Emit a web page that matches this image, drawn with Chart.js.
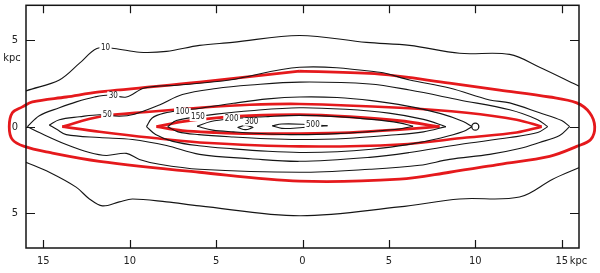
<!DOCTYPE html>
<html>
<head>
<meta charset="utf-8">
<script src="https://cdn.jsdelivr.net/npm/chart.js@4.4.0/dist/chart.umd.min.js"></script>
<style>
  html, body { margin: 0; padding: 0; background: #fff; }
  #galaxyChart { display: block; }
</style>
</head>
<body>
<canvas id="galaxyChart" width="600" height="273"></canvas>
<script>
// axis ticks (kpc)
const xTicks = [-15, -10, -5, 0, 5, 10, 15];
const yTicks = [-5, 0, 5];

// black isophotes, [x kpc, z kpc], top and bottom branches
const c10Top = [[-16.5,1.8],[-16,2.06],[-14.07,2.69],[-12.9,3.66],[-11.9,4.51],[-10.9,4.51],[-9.44,4.29],[-7.87,4.34],[-5.96,4.69],[-4.05,4.86],[-0.17,5.26],[3.7,4.86],[6.2,4.69],[9.09,4.23],[11.99,4.17],[13.72,3.43],[15.87,2.4],[16.5,2.1]];
const c10Bot = [[-16.5,-1.85],[-16,-2.06],[-14.65,-2.63],[-13.1,-3.49],[-12.33,-4.17],[-11.58,-4.57],[-10.6,-4.34],[-9.84,-4.17],[-7.87,-4.34],[-5.96,-4.57],[-0.17,-5.14],[5.6,-4.63],[9.09,-4.17],[12.56,-4.06],[14.48,-3.03],[15.92,-2.4],[16.5,-2.15]];
const c30Top = [[-15.92,0],[-15.23,0.63],[-14.07,1.09],[-13.09,1.43],[-12.04,1.71],[-11.18,1.83],[-10.19,1.71],[-9.15,2.23],[-7.12,2.4],[-4.23,2.69],[-0.17,3.43],[4.46,3.14],[6.2,2.69],[8.51,2.23],[10.83,1.54],[11.99,1.37],[13.72,0.8],[15.0,0.35],[15.46,0]];
const c30Bot = [[-15.92,0],[-15.23,-0.34],[-13.67,-1.03],[-12.33,-1.49],[-11.35,-1.66],[-10.19,-1.54],[-9.44,-1.89],[-8.28,-2.17],[-5.96,-2.46],[-0.17,-2.63],[3.88,-2.46],[6.77,-2.23],[8.51,-1.89],[10.83,-1.6],[12.56,-1.26],[13.72,-0.91],[14.88,-0.51],[15.46,0]];
const c50Top = [[-14.65,0.1],[-14.07,0.4],[-12.91,0.57],[-11.75,0.69],[-10.6,0.6],[-9.73,0.72],[-8.28,1.25],[-6.95,1.85],[-5,2.2],[-3,2.4],[-0.17,2.57],[3.88,2.46],[6.2,2.11],[9.09,1.54],[11.99,0.97],[13.61,0.4],[14.19,0]];
const c50Bot = [[-14.65,0.1],[-14.2,-0.17],[-13.67,-0.46],[-11.75,-0.63],[-9.84,-0.74],[-7.87,-1.09],[-5.96,-1.6],[-3,-1.85],[-0.17,-2.0],[3.88,-1.77],[6.2,-1.49],[9.09,-1.03],[11.99,-0.63],[13.61,-0.34],[14.19,0]];
const c100Top = [[-9.03,0],[-8.7,0.5],[-8,0.78],[-6.95,0.95],[-6,1.05],[-4,1.35],[-2,1.6],[-0.17,1.71],[2,1.68],[4,1.5],[6,1.2],[8,0.75],[9.3,0.3],[9.8,0]];
const c100Bot = [[-9.03,0],[-8.5,-0.45],[-7.5,-0.85],[-6,-1.1],[-4,-1.28],[-2,-1.42],[-0.17,-1.49],[2,-1.45],[4,-1.3],[6,-1.05],[8,-0.65],[9.3,-0.28],[9.8,0]];
const c150Top = [[-7.8,0],[-7.3,0.35],[-6.1,0.57],[-5,0.72],[-3,0.92],[-0.17,1.09],[2.5,1.0],[5,0.78],[7,0.42],[8.3,0]];
const c150Bot = [[-7.8,0],[-7.2,-0.3],[-6,-0.46],[-4,-0.6],[-2,-0.7],[-0.17,-0.74],[2.5,-0.68],[5,-0.5],[7,-0.3],[8.3,0]];
const c200Top = [[-6.1,0.02],[-5.3,0.3],[-4.1,0.45],[-2,0.58],[-0.17,0.65],[2,0.58],[4,0.42],[5.6,0.22],[6.4,0.02]];
const c200Bot = [[-6.1,0.02],[-5.2,-0.2],[-4,-0.3],[-2,-0.42],[-0.17,-0.46],[2,-0.4],[4,-0.28],[5.6,-0.14],[6.4,0.02]];
const c300Top = [[-3.75,-0.05],[-3.3,0.07],[-2.85,-0.05]];
const c300Bot = [[-3.75,-0.05],[-3.3,-0.17],[-2.85,-0.05]];
const c500Top = [[-1.75,0.05],[-1.2,0.15],[0,0.14],[1.45,0.05]];
const c500Bot = [[-1.75,0.05],[-1.2,-0.1],[0,-0.05],[1.45,0.05]];

// red overlays
const redOuter = [[-0.17,3.2],[4.46,3.03],[8.51,2.51],[11.41,2.11],[14.3,1.71],[15.87,1.37],[16.62,0.8],[16.91,0],[16.68,-0.74],[15.87,-1.14],[14.3,-1.71],[11.41,-2.17],[8.51,-2.63],[5.62,-3.03],[-0.17,-3.14],[-5.96,-2.63],[-11.75,-2.0],[-14.65,-1.49],[-16.1,-1.14],[-16.79,-0.74],[-16.97,0],[-16.79,0.8],[-16.21,1.14],[-15.63,1.43],[-13.67,1.71],[-11.75,2.0],[-5.96,2.57],[-0.17,3.2]];
const redMidTop = [[-13.9,0],[-11.75,0.57],[-8.86,0.86],[-5.96,1.09],[-3.07,1.26],[-0.17,1.31],[5.62,1.09],[9.5,0.8],[12.39,0.4],[13.84,0]];
const redMidBot = [[-13.9,0],[-11.75,-0.29],[-8.86,-0.63],[-5.96,-0.91],[-0.17,-1.14],[5.62,-1.03],[9.5,-0.63],[12.39,-0.34],[13.84,0]];
const redInTop = [[-8.45,0],[-6.95,0.29],[-4.98,0.51],[-3.07,0.63],[-0.17,0.69],[2.72,0.57],[5.62,0.34],[7.93,0]];
const redInBot = [[-8.45,0],[-6.95,-0.23],[-4.98,-0.34],[-3.07,-0.4],[-0.17,-0.4],[2.72,-0.34],[5.62,-0.17],[7.93,0]];

// contour level labels and where they sit
const contourLabels = ["10", "30", "50", "100", "150", "200", "300", "500"];
const labelX = [-11.4, -10.95, -11.3, -6.95, -6.05, -4.1, -2.95, 0.6];
const labelY = [4.55, 1.8, 0.7, 0.85, 0.55, 0.47, 0.28, 0.12];

const sunPos = [10, 0];

const FONT = '"DejaVu Sans Condensed", "DejaVu Sans", sans-serif';
const BLACK = "#151515";
const RED = "#e5191c";

function line(points, color, width, extra) {
  return Object.assign({
    data: points.map(([x, y]) => ({ x, y })),
    showLine: true,
    borderColor: color,
    borderWidth: width,
    pointRadius: 0,
    tension: 0.35,
    fill: false
  }, extra || {});
}

const blackSets = [c10Top, c10Bot, c30Top, c30Bot, c50Top, c50Bot, c100Top, c100Bot,
  c150Top, c150Bot, c200Top, c200Bot, c300Top, c300Bot, c500Top, c500Bot]
  .map(p => line(p, BLACK, 1.1));

const redSets = [
  line(redOuter, RED, 2.8, { clip: false }),
  line(redMidTop, RED, 2.6), line(redMidBot, RED, 2.6),
  line(redInTop, RED, 2.8), line(redInBot, RED, 2.8)
];

const sunSets = [
  { data: [{ x: sunPos[0], y: sunPos[1] }], pointRadius: 3.5, pointBorderWidth: 1.3,
    pointBorderColor: BLACK, pointBackgroundColor: "#fff", showLine: false },
  { data: [{ x: sunPos[0], y: sunPos[1] }], pointRadius: 0.9, pointBorderWidth: 0,
    pointBackgroundColor: BLACK, showLine: false }
];

// frame, inward ticks, contour labels and kpc units
const framePlugin = {
  id: "frame",
  afterDatasetsDraw(chart) {
    const { ctx, chartArea: a, scales: { x, y } } = chart;
    ctx.save();
    ctx.font = "8px " + FONT;
    ctx.textAlign = "center";
    ctx.textBaseline = "middle";
    contourLabels.forEach((t, i) => {
      const px = x.getPixelForValue(labelX[i]);
      const py = y.getPixelForValue(labelY[i]);
      const w = ctx.measureText(t).width + 3;
      ctx.fillStyle = "#fff";
      ctx.fillRect(px - w / 2, py - 4, w, 8);
      ctx.fillStyle = BLACK;
      ctx.fillText(t, px, py);
    });

    ctx.strokeStyle = BLACK;
    ctx.lineWidth = 1.5;
    ctx.strokeRect(a.left, a.top, a.right - a.left, a.bottom - a.top);
    ctx.lineWidth = 1.2;
    ctx.beginPath();
    xTicks.forEach(v => {
      const px = Math.round(x.getPixelForValue(v)) + 0.5;
      ctx.moveTo(px, a.bottom); ctx.lineTo(px, a.bottom - 8);
      ctx.moveTo(px, a.top); ctx.lineTo(px, a.top + 8);
    });
    yTicks.forEach(v => {
      const py = Math.round(y.getPixelForValue(v)) + 0.5;
      ctx.moveTo(a.left, py); ctx.lineTo(a.left + 9, py);
      ctx.moveTo(a.right, py); ctx.lineTo(a.right - 9, py);
    });
    ctx.stroke();

    ctx.font = "11px " + FONT;
    ctx.fillStyle = "#222";
    ctx.textAlign = "left";
    ctx.fillText("kpc", x.getPixelForValue(15) + 8, a.bottom + 13);
    ctx.textAlign = "center";
    ctx.fillText("kpc", 12, y.getPixelForValue(3.94));
    ctx.restore();
  }
};

new Chart(document.getElementById("galaxyChart"), {
  type: "scatter",
  data: { datasets: [...blackSets, ...redSets, ...sunSets] },
  options: {
    responsive: false,
    animation: false,
    devicePixelRatio: 1,
    layout: { padding: { top: 5, right: 21, left: 0, bottom: 0 } },
    plugins: { legend: { display: false }, tooltip: { enabled: false } },
    scales: {
      x: {
        type: "linear", min: -16, max: 16,
        grid: { display: false, drawTicks: false }, border: { display: false },
        afterBuildTicks: s => { s.ticks = xTicks.map(v => ({ value: v })); },
        afterFit: s => { s.height = 25; s.paddingLeft = 0; s.paddingRight = 0; },
        ticks: { callback: v => Math.abs(v), padding: 7, color: "#222", font: { family: FONT, size: 11 }, maxRotation: 0 }
      },
      y: {
        type: "linear", min: -7, max: 7,
        grid: { display: false, drawTicks: false }, border: { display: false },
        afterBuildTicks: s => { s.ticks = yTicks.map(v => ({ value: v })); },
        afterFit: s => { s.width = 26; s.paddingTop = 0; s.paddingBottom = 0; },
        ticks: { callback: v => Math.abs(v), padding: 8, color: "#222", font: { family: FONT, size: 11 } }
      }
    }
  },
  plugins: [framePlugin]
});
</script>
</body>
</html>
